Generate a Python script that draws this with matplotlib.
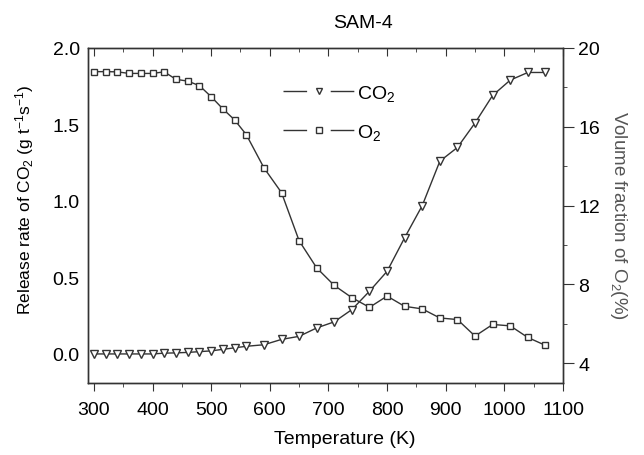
import matplotlib
matplotlib.use("Agg")
import matplotlib.pyplot as plt
from matplotlib.lines import Line2D
from matplotlib.ticker import MultipleLocator

plt.rcParams['font.family'] = ['Liberation Sans', 'DejaVu Sans']
plt.rcParams['mathtext.fontset'] = 'custom'
plt.rcParams['mathtext.rm'] = 'Liberation Sans'
plt.rcParams['mathtext.it'] = 'Liberation Sans:italic'

# --- data ---
temp = [300, 320, 340, 360, 380, 400, 420, 440, 460, 480, 500, 520, 540, 560,
        590, 620, 650, 680, 710, 740, 770, 800, 830, 860, 890, 920, 950, 980,
        1010, 1040, 1070]
co2_rate = [0.0, 0.0, 0.0, 0.0, 0.0, 0.0, 0.005, 0.007, 0.01, 0.015, 0.02,
            0.03, 0.04, 0.05, 0.06, 0.095, 0.115, 0.17, 0.21, 0.29, 0.41,
            0.54, 0.76, 0.97, 1.26, 1.35, 1.51, 1.69, 1.79, 1.84, 1.84]
o2_frac = [18.8, 18.8, 18.79, 18.71, 18.71, 18.71, 18.79, 18.41, 18.32,
           18.09, 17.53, 16.91, 16.35, 15.6, 13.92, 12.66, 10.22, 8.84, 7.95,
           7.33, 6.84, 7.41, 6.89, 6.76, 6.3, 6.22, 5.38, 5.97, 5.9, 5.31,
           4.91]

line_c = '#333333'
fs = 14

fig = plt.figure(figsize=(6.44, 4.56), dpi=100)
ax = fig.add_axes([88/644, 72/456, 475/644, 335/456])
ax2 = ax.twinx()

ax.plot(temp, co2_rate, color=line_c, lw=1, marker='v', ms=6,
        mfc='white', mec=line_c, mew=1)
ax2.plot(temp, o2_frac, color=line_c, lw=1, marker='s', ms=5,
         mfc='white', mec=line_c, mew=1)

ax.set_xlim(290, 1100)
ax.set_ylim(-0.19, 2.0)
ax2.set_ylim(3, 20)

ax.xaxis.set_major_locator(MultipleLocator(100))
ax.xaxis.set_minor_locator(MultipleLocator(50))
ax.yaxis.set_major_locator(MultipleLocator(0.5))
ax2.yaxis.set_minor_locator(MultipleLocator(2))
ax2.set_yticks([4, 8, 12, 16, 20])

ax.tick_params(axis='x', which='major', direction='out', length=6,
               labelsize=fs, pad=7, color=line_c)
ax.tick_params(axis='x', which='minor', direction='out', length=3,
               color=line_c)
ax.tick_params(axis='y', which='both', length=0, labelsize=fs, pad=6)
ax2.tick_params(axis='y', which='major', direction='out', length=8,
                labelsize=fs, pad=3, color=line_c)
ax2.tick_params(axis='y', which='minor', direction='out', length=3,
                color=line_c)

top = ax.secondary_xaxis('top')
top.xaxis.set_major_locator(MultipleLocator(100))
top.xaxis.set_minor_locator(MultipleLocator(50))
top.tick_params(which='major', direction='in', length=6, labeltop=False,
                color=line_c)
top.tick_params(which='minor', direction='in', length=3, color=line_c)
top.spines['top'].set_visible(False)

for a in (ax, ax2):
    for s in a.spines.values():
        s.set_color(line_c)
        s.set_linewidth(1)

ax.set_xlabel('Temperature (K)', fontsize=14)
ax.xaxis.set_label_coords(0.541, -0.14)
ax.set_ylabel(r'Release rate of CO$_2$ (g t$^{-1}$s$^{-1}$)', fontsize=12.5)
ax.yaxis.set_label_coords(-0.11, 0.549)
ax2.set_ylabel(r'Volume fraction of O$_2$(%)', fontsize=13.5, color='#555555',
               rotation=270, va='bottom')
ax2.yaxis.set_label_coords(1.094, 0.504)

fig.text(363/644, 1 - 23/456, 'SAM-4', fontsize=14, ha='center', va='center')

# legend: line broken around a small marker
gap = (0, (17, 17, 17))
h1 = Line2D([], [], color=line_c, lw=1, ls=gap, marker='v', ms=4.5,
            mfc='white', mec=line_c, mew=1)
h2 = Line2D([], [], color=line_c, lw=1, ls=gap, marker='s', ms=3.8,
            mfc='white', mec=line_c, mew=1)
ax.legend([h1, h2], ['CO$_2$', 'O$_2$'], loc='upper left',
          bbox_to_anchor=(0.39, 0.925), frameon=False, fontsize=fs,
          handlelength=3.7, handletextpad=0.1, labelspacing=1.0,
          borderpad=0, numpoints=1)

fig.savefig('out.png', dpi=100)
